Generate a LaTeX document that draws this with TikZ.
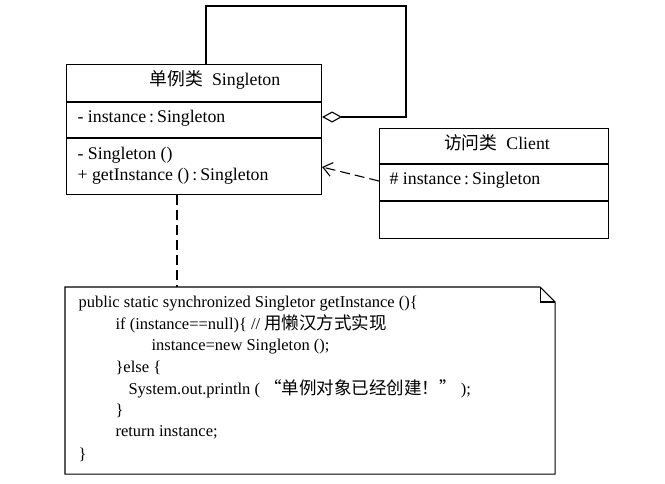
\documentclass[tikz,border=0pt]{standalone}
\usepackage{fontspec}
\setmainfont{Liberation Serif}
\newfontfamily\cjk{Noto Sans CJK SC}
\usetikzlibrary{arrows.meta}
\begin{document}
\begin{tikzpicture}[x=1pt,y=-1pt,
  line width=1.1pt,
  every node/.style={inner sep=0pt,font=\fontsize{17.8}{21}\selectfont},
  classbox/.style={draw,anchor=north west,minimum width=#1},
  txt/.style={anchor=west,text height=0.72em,text depth=0.22em},
  code/.style={txt,font=\fontsize{16.5}{20}\selectfont},
  ttl/.style={text height=0.8em,text depth=0.2em},
  dashline/.style={dash pattern=on 10pt off 5pt}]
\newcommand\cj[1]{{\fontsize{17.5}{20}\cjk #1}}
\useasboundingbox (0,0) rectangle (665,483);
% Singleton class
\node[classbox=255pt,minimum height=130pt] (S) at (66,64) {};
\draw (S.west |- 0,102) -- (S.east |- 0,102);
\draw (S.west |- 0,138) -- (S.east |- 0,138);
\node[ttl] (St) at (215,82) {{\cjk 单例类}\ \ Singleton};
\node[txt] (Sa) at (77,120) {- instance\,:\,Singleton};
\node[txt] (Sm1) at (77,157) {- Singleton ()};
\node[txt] (Sm2) at (77,178) {+ getInstance ()\,:\,Singleton};
% Client class
\node[classbox=229pt,minimum height=110pt] (C) at (379,128) {};
\draw (C.west |- 0,164) -- (C.east |- 0,164);
\draw (C.west |- 0,201) -- (C.east |- 0,201);
\node[ttl] (Ct) at (497,146) {{\cjk 访问类}\ \ Client};
\node[txt] (Ca) at (389,182) {\# instance\,:\,Singleton};
% self aggregation
\coordinate (L1) at (206,6);
\coordinate (L2) at (406,6);
\coordinate (L3) at (406,117);
\draw[{Diamond[open,length=20pt,width=11pt,line width=1.1pt]}-] (S.east |- L3) -- (L3) -- (L2) -- (L1) -- (S.north -| L1);
% dependency
\draw[dashline,-{Straight Barb[length=9pt,width=14pt,line width=1.1pt]}] (C.west |- 0,181) -- (S.east |- 0,167);
% note
\node[anchor=north west,minimum width=489pt,minimum height=186pt] (N) at (65,287) {};
\draw (N.north west) -- ([xshift=-15pt]N.north east) -- ([yshift=-15pt]N.north east) -- (N.south east) -- (N.south west) -- cycle;
\draw ([xshift=-15pt]N.north east) -- ([xshift=-15pt,yshift=-15pt]N.north east) -- ([yshift=-15pt]N.north east);
\draw[dashline] (S.south -| 177,0) -- (N.north -| 177,0);
% note text
\node[code] (n1) at (78,305) {public static synchronized Singletor getInstance ()\{};
\node[code] (n2) at (115,327) {if (instance==null)\{ // \cj{用懒汉方式实现}};
\node[code] (n3) at (151,348) {instance=new Singleton ();};
\node[code] (n4) at (115,370) {\}else \{};
\node[code] (n5) at (128,392) {System.out.println ( \cj{“单例对象已经创建！”} );};
\node[code] (n6) at (115,413) {\}};
\node[code] (n7) at (115,434) {return instance;};
\node[code] (n8) at (78,457) {\}};
\end{tikzpicture}
\end{document}
